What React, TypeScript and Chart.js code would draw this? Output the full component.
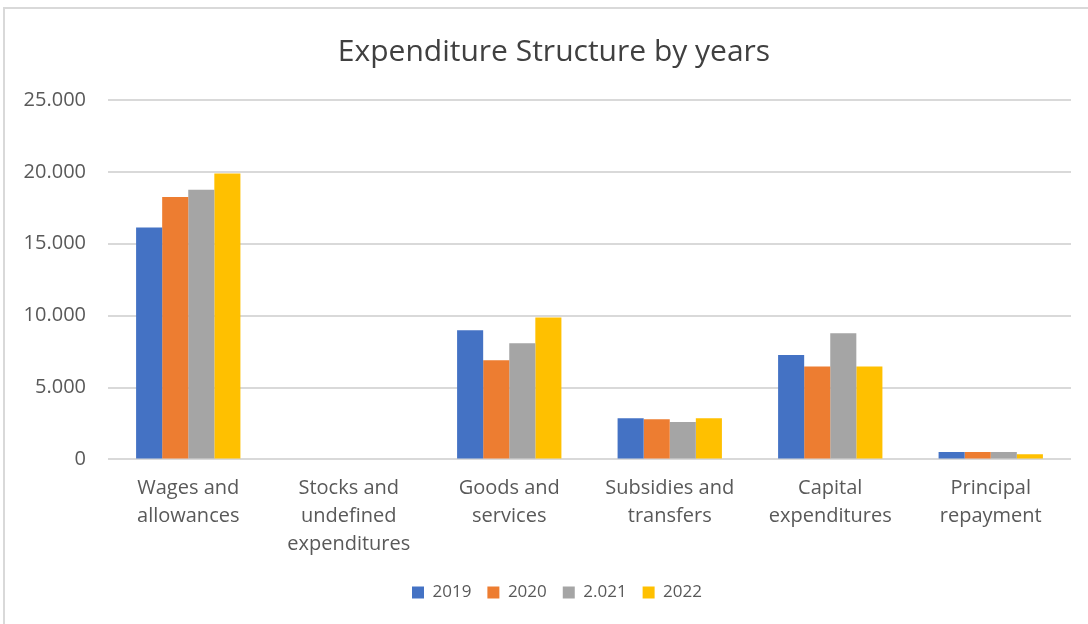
import React, { useEffect, useRef } from "react";
import { Chart, registerables } from "chart.js";

Chart.register(...registerables);

const categories: string[][] = [
  ["Wages and", "allowances"],
  ["Stocks and", "undefined", "expenditures"],
  ["Goods and", "services"],
  ["Subsidies and", "transfers"],
  ["Capital", "expenditures"],
  ["Principal", "repayment"],
];
const seriesNames = ["2019", "2020", "2.021", "2022"];
const s2019 = [16130, 0, 8990, 2860, 7260, 510];
const s2020 = [18250, 0, 6890, 2790, 6470, 510];
const s2021 = [18760, 0, 8080, 2600, 8780, 510];
const s2022 = [19880, 0, 9870, 2860, 6470, 350];
const colors = ["#4472C4", "#ED7D31", "#A5A5A5", "#FFC000"];
const yTicks = [0, 5000, 10000, 15000, 20000, 25000];

const FONT = "'Open Sans', 'Noto Sans', sans-serif";
const TEXT = "#595959";

const blockShift = {
  id: "blockShift",
  afterLayout(chart: any) {
    const l = chart.legend;
    if (l) {
      l.left += 10;
      l.right += 10;
    }
    const t = chart.titleBlock;
    if (t) {
      t.left += 7;
      t.right += 7;
    }
  },
};

export default function App() {
  const ref = useRef<HTMLCanvasElement>(null);
  useEffect(() => {
    if (!ref.current) return;
    const values = [s2019, s2020, s2021, s2022];
    const chart = new Chart(ref.current, {
      type: "bar",
      data: {
        labels: categories,
        datasets: seriesNames.map((n, i) => ({
          label: n,
          data: values[i],
          backgroundColor: colors[i],
          borderWidth: 0,
          categoryPercentage: 0.65,
          barPercentage: 1,
        })),
      },
      plugins: [blockShift],
      options: {
        animation: false,
        responsive: false,
        maintainAspectRatio: false,
        layout: { padding: { left: 23, right: 17, top: 16, bottom: 13 } },
        plugins: {
          title: {
            display: true,
            text: "Expenditure Structure by years",
            color: "#404040",
            font: { family: FONT, size: 30, weight: "normal" },
            padding: { top: 18, bottom: 30 },
          },
          legend: {
            position: "bottom",
            labels: {
              color: TEXT,
              font: { family: FONT, size: 17 },
              boxWidth: 12,
              boxHeight: 12,
              padding: 16,
            },
          },
          tooltip: { enabled: false },
        },
        scales: {
          x: {
            grid: { display: false },
            border: { display: false },
            ticks: {
              color: TEXT,
              font: { family: FONT, size: 20, lineHeight: 1.4 },
              padding: 7,
              maxRotation: 0,
              autoSkip: false,
            },
            afterFit: (s: any) => {
              s.height = 108.6;
            },
          },
          y: {
            min: 0,
            max: 25000,
            afterBuildTicks: (s: any) => {
              s.ticks = yTicks.map((v) => ({ value: v }));
            },
            grid: { color: "#D9D9D9", lineWidth: 2, drawTicks: false },
            border: { display: false },
            ticks: {
              color: TEXT,
              font: { family: FONT, size: 20 },
              padding: 22,
              callback: (v: any) =>
                Number(v) === 0
                  ? "0"
                  : (Number(v) / 1000).toFixed(3),
            },
            afterFit: (s: any) => {
              s.width = 85;
            },
          },
        },
      },
    });
    return () => chart.destroy();
  }, []);
  return (
    <div
      style={{
        position: "fixed",
        left: 0,
        top: 0,
        width: 1088,
        height: 624,
        overflow: "hidden",
        background: "#fff",
      }}
    >
      <div
        style={{
          position: "absolute",
          left: 3,
          top: 7,
          width: 1200,
          height: 800,
          border: "2px solid #D9D9D9",
        }}
      />
      <canvas
        ref={ref}
        width={1088}
        height={624}
        style={{ position: "absolute", left: 0, top: 0 }}
      />
    </div>
  );
}
